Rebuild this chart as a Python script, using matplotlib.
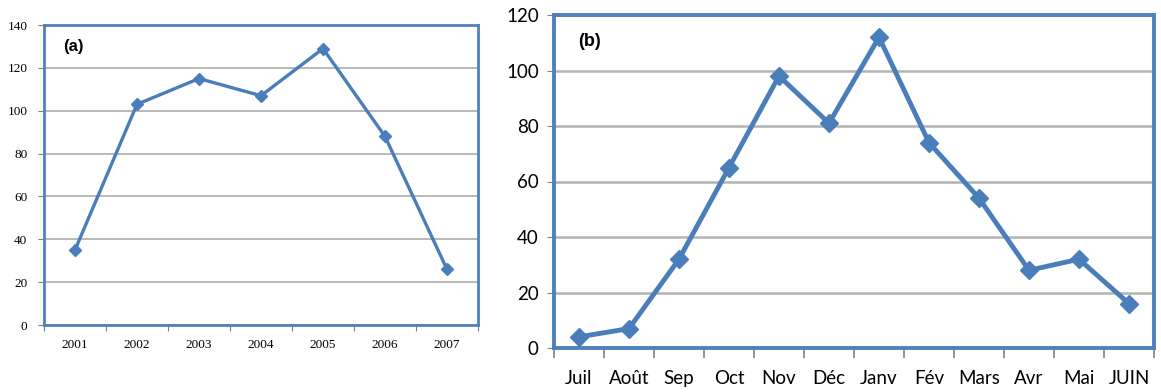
import matplotlib
matplotlib.use("Agg")
import matplotlib.pyplot as plt
import numpy as np

years = ["2001", "2002", "2003", "2004", "2005", "2006", "2007"]
values_a = [35, 103, 115, 107, 129, 88, 26]
months = ["Juil", "Août", "Sep", "Oct", "Nov", "Déc", "Janv", "Fév", "Mars", "Avr", "Mai", "JUIN"]
values_b = [4, 7, 32, 65, 98, 81, 112, 74, 54, 28, 32, 16]

W, H = 1161, 392
fig = plt.figure(figsize=(W / 100, H / 100), dpi=100)

line_col = "#4a7ebb"
frame_col = "#4f81bd"
grid_col = "#b3b3b3"

def px_axes(l, t, r, b):
    return fig.add_axes([l / W, 1 - b / H, (r - l) / W, (b - t) / H])

# Panel (a)
ax1 = px_axes(44, 25, 478, 325)
xa = np.arange(len(years)) + 0.5
ax1.plot(xa, values_a, color=line_col, lw=2.4, marker="D", ms=6.5, zorder=3)
ax1.set_xlim(0, len(years))
ax1.set_ylim(0, 140)
ax1.set_yticks(np.arange(0, 141, 20))
ax1.set_xticks(np.arange(0, len(years) + 1))
ax1.set_xticklabels([])
ax1.set_xticks(xa, minor=True)
ax1.set_xticklabels(years, minor=True)
ax1.tick_params(axis="x", which="minor", length=0, pad=10)
ax1.tick_params(axis="x", which="major", length=4, color="#808080")
ax1.tick_params(axis="y", length=4, color="#808080", pad=8)
for lab in ax1.get_xticklabels(minor=True) + ax1.get_yticklabels():
    lab.set_fontfamily("Liberation Serif")
    lab.set_fontsize(9.5)
ax1.grid(axis="y", color=grid_col, lw=1.3)
ax1.set_axisbelow(True)
for s in ax1.spines.values():
    s.set_color(frame_col)
    s.set_linewidth(2)
ax1.text(0.045, 0.955, "(a)", transform=ax1.transAxes, fontsize=12, fontweight="bold",
         family="Liberation Sans", va="top", ha="left")

# Panel (b)
ax2 = px_axes(554, 15, 1154, 348)
xb = np.arange(len(months)) + 0.5
ax2.plot(xb, values_b, color=line_col, lw=3.5, marker="D", ms=9, zorder=3)
ax2.set_xlim(0, len(months))
ax2.set_ylim(0, 120)
ax2.set_yticks(np.arange(0, 121, 20))
ax2.set_xticks(np.arange(0, len(months) + 1))
ax2.set_xticklabels([])
ax2.set_xticks(xb, minor=True)
ax2.set_xticklabels(months, minor=True)
ax2.tick_params(axis="x", which="minor", length=0, pad=16)
ax2.tick_params(axis="x", which="major", length=7, color="#808080", width=1.2)
ax2.tick_params(axis="y", length=5, color="#808080", pad=6)
for lab in ax2.get_xticklabels(minor=True) + ax2.get_yticklabels():
    lab.set_fontfamily("Lato")
    lab.set_fontsize(13.5)
ax2.grid(axis="y", color=grid_col, lw=1.8)
ax2.set_axisbelow(True)
for s in ax2.spines.values():
    s.set_color(frame_col)
    s.set_linewidth(2.8)
ax2.text(0.04, 0.945, "(b)", transform=ax2.transAxes, fontsize=13, fontweight="bold",
         family="Liberation Sans", va="top", ha="left")

fig.savefig("out.png", dpi=100)
